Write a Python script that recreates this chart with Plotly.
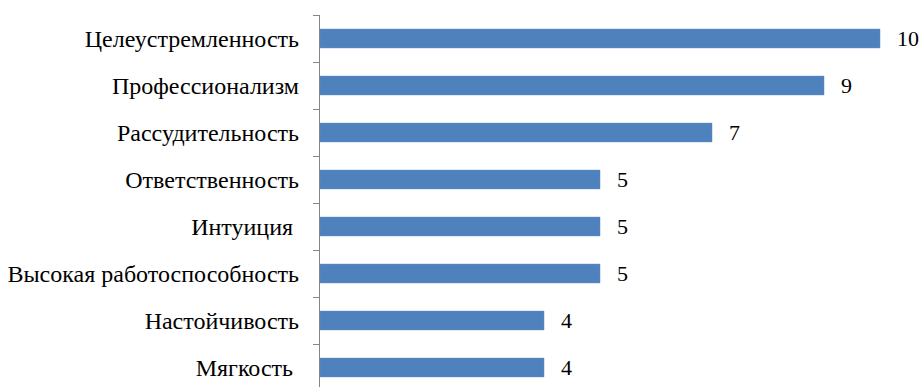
import plotly.graph_objects as go

# Qualities and how many respondents named each one
qualities = [
    "Целеустремленность",
    "Профессионализм",
    "Рассудительность",
    "Ответственность",
    "Интуиция ",
    "Высокая работоспособность",
    "Настойчивость",
    "Мягкость ",
]
counts = [10, 9, 7, 5, 5, 5, 4, 4]

BAR_COLOR = "#4F81BD"
FONT = "Times New Roman, Liberation Serif, serif"

fig = go.Figure(
    go.Bar(
        x=counts,
        y=qualities,
        orientation="h",
        marker=dict(color=BAR_COLOR, line=dict(color="#5B8CC6", width=0.5)),
        width=0.4,
        hoverinfo="x+y",
    )
)

# Value labels to the right of each bar
for q, c in zip(qualities, counts):
    fig.add_annotation(
        x=c, y=q, text=str(c), showarrow=False,
        xanchor="left", yanchor="middle", xshift=15,
        font=dict(family=FONT, size=22, color="#000000"),
    )

fig.update_layout(
    width=923,
    height=387,
    margin=dict(l=320, r=0, t=15, b=0),
    paper_bgcolor="white",
    plot_bgcolor="white",
    showlegend=False,
    font=dict(family=FONT, size=22, color="#000000"),
)

fig.update_xaxes(
    range=[0, 603 / 56],
    visible=False,
    showgrid=False,
    zeroline=False,
)

# First category at the top; the last row runs past the bottom edge
fig.update_yaxes(
    categoryorder="array",
    categoryarray=qualities,
    autorange=False,
    range=[-0.5 + 372 / 47, -0.5],
    showline=True,
    linecolor="#868686",
    linewidth=1.3,
    ticks="outside",
    ticklen=6,
    tickcolor="#868686",
    tickson="boundaries",
    ticklabelstandoff=15,
    showgrid=False,
    zeroline=False,
    tickfont=dict(family=FONT, size=24, color="#000000"),
)

fig.write_html("out.html")
